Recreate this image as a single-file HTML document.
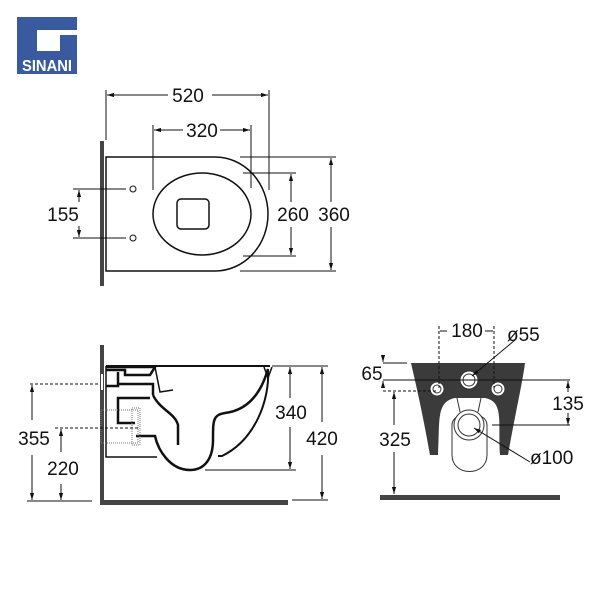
<!DOCTYPE html>
<html><head><meta charset="utf-8"><style>
html,body{margin:0;padding:0;background:#fff;}
svg{display:block;}
text{font-family:"Liberation Sans",sans-serif;fill:#111;}
</style></head><body>
<svg width="600" height="600" viewBox="0 0 600 600" xmlns="http://www.w3.org/2000/svg">
<defs>
<marker id="a" viewBox="0 0 10 10" refX="10" refY="5" markerWidth="7" markerHeight="7" orient="auto-start-reverse"><path d="M0,2 L10,5 L0,8 Z" fill="#111"/></marker>
</defs>
<!-- logo -->
<rect x="17" y="17" width="60" height="57" fill="#3a5aa0"/>
<rect x="37" y="30" width="40" height="21" fill="#fff"/>
<rect x="60" y="35" width="17" height="16" fill="#3a5aa0"/>
<text x="47" y="71" text-anchor="middle" font-size="16" font-weight="bold" style="fill:#fff" textLength="50" lengthAdjust="spacingAndGlyphs">SINANI</text>

<g stroke="#111" fill="none" stroke-width="1">
<!-- TOP VIEW -->
<rect x="100" y="141" width="4" height="145" fill="#444" stroke="none"/>
<path d="M106,157 H215 A53,57 0 0 1 215,271 H106 Z" stroke-width="1.5"/>
<ellipse cx="202" cy="214" rx="49" ry="41" stroke-width="1.5"/>
<rect x="177" y="199" width="32" height="30" rx="4" stroke-width="1.5"/>
<circle cx="133" cy="189" r="3"/><circle cx="133" cy="238" r="3"/>
<line x1="106" y1="90" x2="106" y2="140"/><line x1="269" y1="90" x2="269" y2="190"/>
<line x1="107" y1="95" x2="168" y2="95" marker-start="url(#a)"/><line x1="212" y1="95" x2="268" y2="95" marker-end="url(#a)"/>
<line x1="153" y1="125" x2="153" y2="190"/><line x1="251" y1="125" x2="251" y2="188"/>
<line x1="154" y1="130" x2="183" y2="130" marker-start="url(#a)"/><line x1="220" y1="130" x2="250" y2="130" marker-end="url(#a)"/>
<line x1="243" y1="173" x2="296" y2="173"/><line x1="243" y1="256" x2="296" y2="256"/>
<line x1="291" y1="174" x2="291" y2="202" marker-start="url(#a)"/><line x1="291" y1="227" x2="291" y2="255" marker-end="url(#a)"/>
<line x1="240" y1="157" x2="336" y2="157"/><line x1="240" y1="271" x2="336" y2="271"/>
<line x1="331" y1="158" x2="331" y2="202" marker-start="url(#a)"/><line x1="331" y1="227" x2="331" y2="270" marker-end="url(#a)"/>
<line x1="73" y1="189" x2="126" y2="189"/><line x1="73" y1="238" x2="126" y2="238"/>
<line x1="79" y1="190" x2="79" y2="202" marker-start="url(#a)"/><line x1="79" y1="226" x2="79" y2="237" marker-end="url(#a)"/>

<!-- SIDE VIEW -->
<rect x="100" y="345" width="4" height="160" fill="#444" stroke="none"/>
<rect x="100" y="500" width="188" height="5" fill="#444" stroke="none"/>
<rect x="101" y="374" width="2" height="16" fill="#fff" stroke="none"/>
<path d="M106,366 H270" stroke-width="2"/>
<path d="M106,366 V457 H157" stroke-width="1.5"/>
<path d="M106,367 H155 L150,375 H125 V370 H106 M118,372 V386 H106 M118,384 H153 V395" stroke-width="2.5"/>
<path d="M155,367 L160,392 L173,390" stroke-width="1.5"/>
<path d="M150,398 H118 V423 H135" stroke-width="2.5"/>
<path d="M136,436 H155 C158,450 170,470 190,470 C205,470 213,458 213,440 C213,420 213,415 225,413 C250,410 262,390 268,369" stroke-width="2.5"/>
<path d="M153,395 C160,410 175,413 178,425 V445" stroke-width="2.5"/>
<path d="M268,369 C270,400 255,440 222,456 H218" stroke-width="2"/>
<path d="M264,367 L268,378 L272,367" stroke-width="1.5"/>
<rect x="101" y="410" width="37" height="33" stroke-dasharray="1,1" stroke="#777"/>
<rect x="132" y="408" width="8" height="37" stroke-dasharray="1,1" stroke="#777"/>
<line x1="30" y1="384" x2="100" y2="384" stroke-dasharray="3,2"/>
<line x1="55" y1="428" x2="140" y2="428" stroke-dasharray="3,2"/>
<line x1="27" y1="501" x2="92" y2="501"/>
<line x1="32" y1="385" x2="32" y2="420" marker-start="url(#a)"/><line x1="32" y1="455" x2="32" y2="500" marker-end="url(#a)"/>
<line x1="61" y1="429" x2="61" y2="452" marker-start="url(#a)"/><line x1="61" y1="484" x2="61" y2="500" marker-end="url(#a)"/>
<line x1="272" y1="366" x2="296" y2="366"/><line x1="205" y1="470" x2="296" y2="470"/>
<line x1="290" y1="367" x2="290" y2="398" marker-start="url(#a)"/><line x1="290" y1="427" x2="290" y2="469" marker-end="url(#a)"/>
<line x1="290" y1="366" x2="328" y2="366"/><line x1="292" y1="500" x2="328" y2="500"/>
<line x1="322" y1="367" x2="322" y2="422" marker-start="url(#a)"/><line x1="322" y1="455" x2="322" y2="499" marker-end="url(#a)"/>

<!-- FRONT VIEW -->
<path d="M411,363 H525 C522,385 516,410 508,455 L500,455 C498,420 504,402 485,398 H455 C436,402 440,420 438,455 H430 C422,410 416,385 411,363 Z" fill="#3b3b3b" stroke="none"/>
<path d="M452,455 V425 C452,410 487,410 487,425 V455 C487,477 452,477 452,455 Z" fill="#fff" stroke="#333"/>
<path d="M457,398 L460,412 M481,398 L478,412" stroke="#333"/>
<circle cx="469" cy="380" r="9" fill="#fff" stroke="#333"/><circle cx="469" cy="380" r="6" stroke="#333"/>
<circle cx="437" cy="389" r="7" fill="#fff" stroke="#333"/><circle cx="437" cy="389" r="4" stroke="#333"/>
<circle cx="498" cy="389" r="7" fill="#fff" stroke="#333"/><circle cx="498" cy="389" r="4" stroke="#333"/>
<circle cx="469" cy="425" r="15" fill="#fff" stroke="#333"/><circle cx="469" cy="425" r="11" stroke="#333"/>
<rect x="380" y="495" width="180" height="5" fill="#444" stroke="none"/>
<line x1="439" y1="326" x2="439" y2="388" stroke-dasharray="3,2"/><line x1="494" y1="326" x2="494" y2="388" stroke-dasharray="3,2"/>
<line x1="440" y1="331" x2="447" y2="331"/><line x1="485" y1="331" x2="493" y2="331"/>
<line x1="383" y1="363" x2="407" y2="363"/><line x1="383" y1="380" x2="570" y2="380"/>
<line x1="383" y1="391" x2="437" y2="391" stroke-dasharray="3,2"/>
<line x1="383" y1="356" x2="383" y2="362" marker-end="url(#a)"/><line x1="383" y1="387" x2="383" y2="381" marker-end="url(#a)"/>
<line x1="568" y1="381" x2="568" y2="392" marker-start="url(#a)"/><line x1="568" y1="413" x2="568" y2="425" marker-end="url(#a)"/>
<line x1="492" y1="425" x2="570" y2="425"/>
<line x1="394" y1="392" x2="394" y2="425" marker-start="url(#a)"/><line x1="394" y1="452" x2="394" y2="494" marker-end="url(#a)"/>
<line x1="515" y1="340" x2="472" y2="376" marker-end="url(#a)"/>
<line x1="530" y1="462" x2="474" y2="428" marker-end="url(#a)"/>
</g>

<g font-size="19">
<text x="188" y="102" text-anchor="middle">520</text>
<text x="202" y="137" text-anchor="middle">320</text>
<text x="293" y="221" text-anchor="middle" style="paint-order:stroke" stroke="#fff" stroke-width="3">260</text>
<text x="334" y="221" text-anchor="middle" style="paint-order:stroke" stroke="#fff" stroke-width="3">360</text>
<text x="63" y="221" text-anchor="middle">155</text>
<text x="34" y="445" text-anchor="middle">355</text>
<text x="63" y="475" text-anchor="middle">220</text>
<text x="291" y="419" text-anchor="middle" style="paint-order:stroke" stroke="#fff" stroke-width="3">340</text>
<text x="322" y="445" text-anchor="middle" style="paint-order:stroke" stroke="#fff" stroke-width="3">420</text>
<text x="467" y="337" text-anchor="middle">180</text>
<text x="507" y="341">ø55</text>
<text x="372" y="380" text-anchor="middle">65</text>
<text x="568" y="410" text-anchor="middle" style="paint-order:stroke" stroke="#fff" stroke-width="3">135</text>
<text x="395" y="446" text-anchor="middle" style="paint-order:stroke" stroke="#fff" stroke-width="3">325</text>
<text x="530" y="464">ø100</text>
</g>
</svg>
</body></html>
